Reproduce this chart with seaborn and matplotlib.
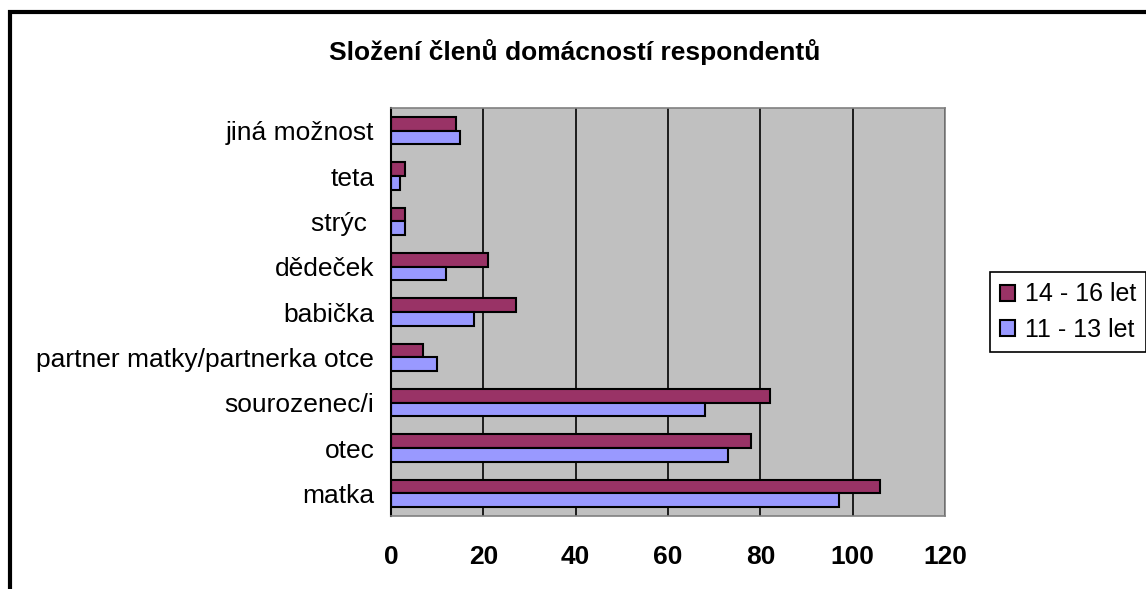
import pandas as pd
import matplotlib.pyplot as plt
import seaborn as sns
from matplotlib.patches import Rectangle

# data (top to bottom)
kategorie = ['jiná možnost', 'teta', 'strýc ', 'dědeček', 'babička',
             'partner matky/partnerka otce', 'sourozenec/i', 'otec', 'matka']
starsi = [14, 3, 3, 21, 27, 7, 82, 78, 106]    # 14 - 16 let
mladsi = [15, 2, 3, 12, 18, 10, 68, 73, 97]    # 11 - 13 let
skupiny = ['14 - 16 let', '11 - 13 let']
barvy = ['#993366', '#9999FF']

df = pd.DataFrame({
    'kategorie': kategorie * 2,
    'pocet': starsi + mladsi,
    'skupina': [skupiny[0]] * len(kategorie) + [skupiny[1]] * len(kategorie),
})

sns.set_style('white')
plt.rcParams['font.family'] = ['Liberation Sans', 'DejaVu Sans']
plt.rcParams['text.color'] = 'black'
plt.rcParams['xtick.color'] = 'black'
plt.rcParams['ytick.color'] = 'black'

fig = plt.figure(figsize=(11.46, 5.89), dpi=100)
ax = fig.add_axes([391 / 1146, 1 - 516 / 589, (945 - 391) / 1146, (516 - 108) / 589])
ax.set_facecolor('#C0C0C0')

sns.barplot(data=df, y='kategorie', x='pocet', hue='skupina', order=kategorie,
            hue_order=skupiny, palette=barvy, orient='h', width=0.6, gap=0,
            edgecolor='black', linewidth=1.5, saturation=1, ax=ax, legend=True)

ax.set_xlim(0, 120)
ax.set_ylim(len(kategorie) - 0.5, -0.5)
ax.set_xticks(range(0, 121, 20))
ax.xaxis.grid(True, color='black', linewidth=1.2)
ax.set_axisbelow(True)
ax.set_xlabel('')
ax.set_ylabel('')

for s in ['top', 'right', 'bottom']:
    ax.spines[s].set_color('#808080')
    ax.spines[s].set_linewidth(1.2)
ax.spines['left'].set_color('black')
ax.spines['left'].set_linewidth(1.5)

ax.tick_params(axis='y', which='major', length=0, pad=12, labelsize=19)
ax.set_yticks([i - 0.5 for i in range(len(kategorie) + 1)], minor=True)
ax.tick_params(axis='y', which='minor', length=8, width=1.5, color='black', direction='out')
ax.tick_params(axis='x', length=8, width=1.2, color='black', direction='out', pad=13, labelsize=19)
for t in ax.get_xticklabels():
    t.set_fontweight('bold')

h, l = ax.get_legend_handles_labels()
ax.get_legend().remove()
fig.legend(h, l, loc='center left', bbox_to_anchor=(990 / 1146, 1 - 312 / 589),
           borderaxespad=0, frameon=True, fancybox=False, edgecolor='black',
           fontsize=18, handlelength=0.6, handleheight=0.6, handletextpad=0.4,
           borderpad=0.4, labelspacing=0.45, framealpha=1)
fig.legends[0].get_frame().set_linewidth(1.2)

fig.text(575 / 1146, 1 - 52 / 589, 'Složení členů domácností respondentů',
         ha='center', va='center', fontsize=19, fontweight='bold')

fig.patches.append(Rectangle((10 / 1146, -0.2), 1.2, 1 - 12 / 589 + 0.2,
                             transform=fig.transFigure, fill=False,
                             edgecolor='black', linewidth=3))

fig.savefig('out.png', dpi=100)
